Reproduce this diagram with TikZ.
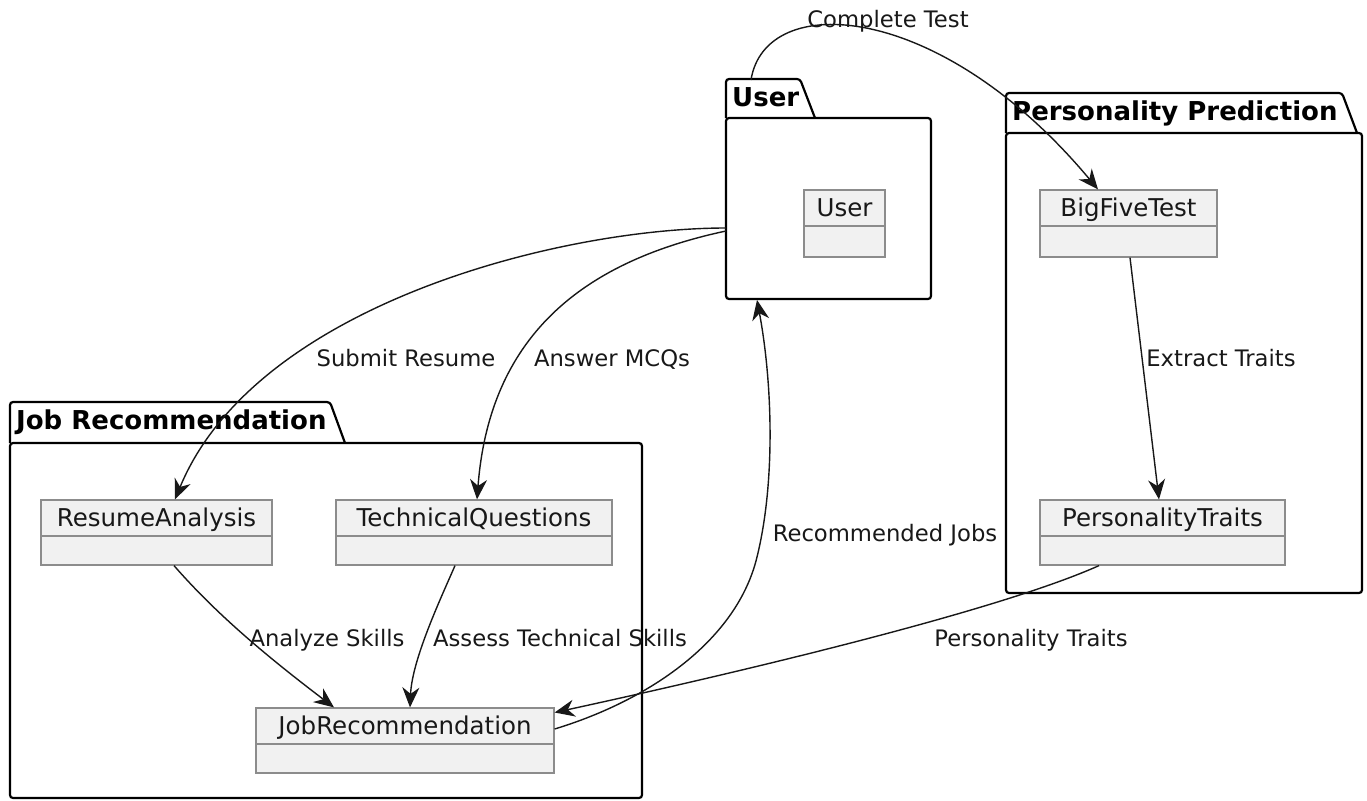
\documentclass[tikz,border=0pt]{standalone}
\usepackage{fontspec}
\setmainfont{DejaVu Sans}
\usetikzlibrary{arrows.meta}
\definecolor{clsfill}{HTML}{F1F1F1}
\definecolor{clsline}{HTML}{8C8C8C}
\definecolor{ink}{HTML}{181818}
\tikzset{
  classbox/.style={draw=clsline, fill=clsfill, line width=1.2pt, inner sep=0pt, rectangle},
  classname/.style={font=\fontsize{24.5}{28}\selectfont, text=ink, inner sep=0pt, anchor=base},
  pkgbody/.style={draw=black, line width=2.2pt, rounded corners=3pt, inner sep=0pt, rectangle},
  pkgtab/.style={draw=black, line width=2.2pt, rounded corners=3pt},
  pkgtitle/.style={font=\bfseries\fontsize{26}{30}\selectfont, inner sep=0pt, anchor=base west},
  edge/.style={draw=ink, line width=1.4pt, -{Stealth[length=20pt,width=17pt,inset=6.5pt]}},
  elabel/.style={font=\fontsize{22.7}{26}\selectfont, text=ink, inner sep=0pt, anchor=base},
}
% name, x0, y0, x1, y1, text
\newcommand\umlclass[6]{%
  \node[classbox, minimum width={#4-#2}, minimum height={#5-#3}] (#1) at ({(#2+#4)/2},{(#3+#5)/2}) {};
  \draw[classbox] ([yshift=-36.5pt]#1.north west) -- ([yshift=-36.5pt]#1.north east);
  \node[classname] (#1-t) at ([yshift=-27pt]#1.north) {#6};
}
% name, x0, tabtop, bodytop, x1, bottom, tabR1, tabR2, title
\newcommand\umlpackage[9]{%
  \draw[pkgtab] (#2,#4) -- (#2,#3) -- (#7,#3) -- (#8,#4);
  \node[pkgbody, minimum width={#5-#2}, minimum height={#6-#4}] (#1) at ({(#2+#5)/2},{(#4+#6)/2}) {};
  \node[pkgtitle] (#1-title) at ({#2+6},{#3+27}) {#9};
}
\begin{document}
\begin{tikzpicture}[x=1pt, y=-1pt]
\useasboundingbox (0,0) rectangle (1367,800);

% packages
\umlpackage{userpkg}{726}{79}{118}{931}{299}{800}{815}{User}
\umlpackage{perspkg}{1006}{93}{133}{1362}{593}{1342}{1357}{Personality Prediction}
\umlpackage{jobpkg}{10}{402}{443}{642}{798}{330}{345}{Job Recommendation}

% classes
\umlclass{user}{804}{190}{885}{257}{User}
\umlclass{bigfive}{1040}{190}{1217}{257}{BigFiveTest}
\umlclass{resume}{41}{500}{272}{565}{ResumeAnalysis}
\umlclass{techq}{336}{500}{612}{565}{TechnicalQuestions}
\umlclass{ptraits}{1040}{500}{1285}{565}{PersonalityTraits}
\umlclass{jobrec}{256}{708}{554}{773}{JobRecommendation}

% connector anchor points
\coordinate (utab) at (751,80);
\coordinate (uleftA) at (726,228);
\coordinate (uleftB) at (726,231);
\coordinate (ubottom) at (757,300);

% edges
\draw[edge] (utab) .. controls (765,-10) and (940,0) .. ([xshift=-30.5pt]bigfive.north);
\draw[edge] (uleftA) .. controls (560,228) and (255,305) .. ([xshift=18.5pt]resume.north);
\draw[edge] (uleftB) .. controls (590,260) and (490,330) .. ([xshift=3pt]techq.north);
\draw[edge] ([yshift=11.5pt]jobrec.east) .. controls (650,700) and (737,640) .. (757,557)
            .. controls (776,480) and (772,380) .. (ubottom);
\draw[edge] ([xshift=1.5pt]bigfive.south) -- ([xshift=-3.5pt]ptraits.north);
\draw[edge] ([xshift=-63.5pt]ptraits.south) .. controls (1000,610) and (750,670) .. ([yshift=28pt]jobrec.east);
\draw[edge] ([xshift=17.5pt]resume.south) .. controls (217,615) and (269,658) .. ([xshift=-71pt]jobrec.north);
\draw[edge] ([xshift=-19pt]techq.south) .. controls (440,600) and (412,660) .. ([xshift=5pt]jobrec.north);

% labels
\node[elabel] (l-complete) at (888,28) {Complete Test};
\node[elabel] (l-submit) at (406,366) {Submit Resume};
\node[elabel] (l-answer) at (612,366) {Answer MCQs};
\node[elabel] (l-recjobs) at (885,541) {Recommended Jobs};
\node[elabel] (l-extract) at (1221,366) {Extract Traits};
\node[elabel] (l-ptraits) at (1031,646) {Personality Traits};
\node[elabel] (l-analyze) at (327,646) {Analyze Skills};
\node[elabel] (l-assess) at (560,646) {Assess Technical Skills};
\end{tikzpicture}
\end{document}
